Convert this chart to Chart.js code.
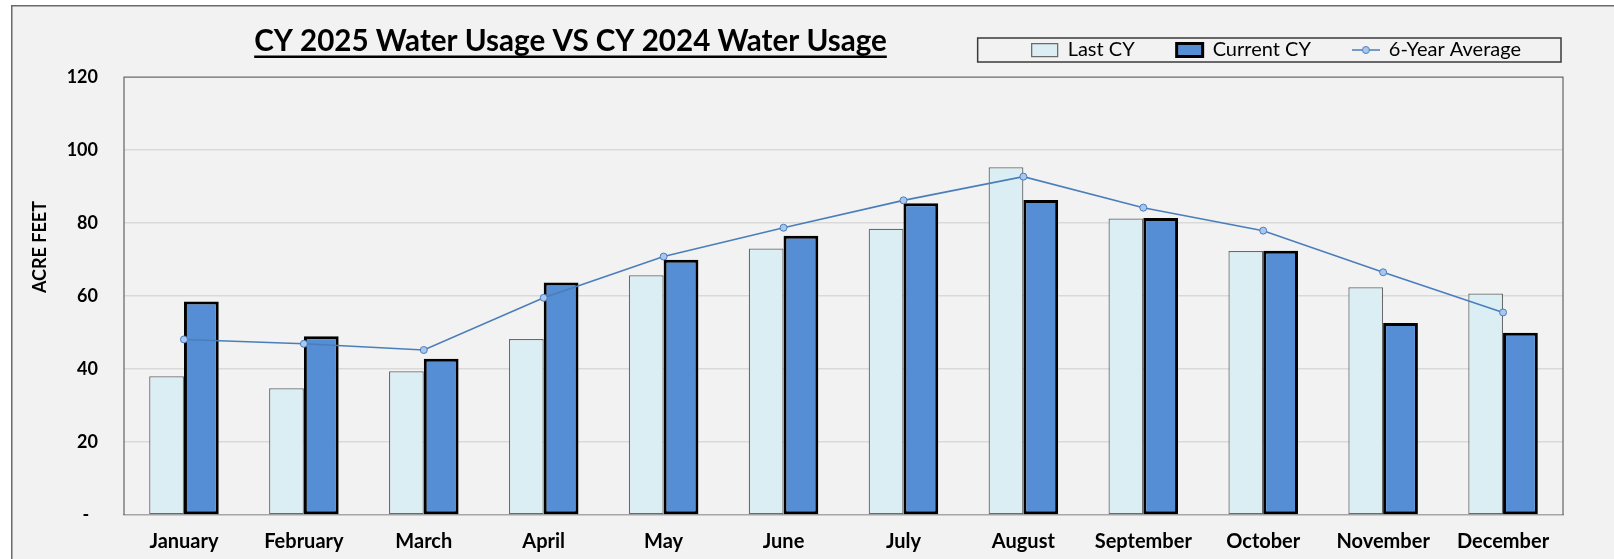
<!DOCTYPE html>
<html>
<head>
<meta charset="utf-8">
<script src="https://cdn.jsdelivr.net/npm/chart.js@4/dist/chart.umd.min.js"></script>
<style>
  html, body { margin: 0; padding: 0; background: #ffffff; }
  #wrap { width: 1614px; height: 559px; }
</style>
</head>
<body>
<div id="wrap"><canvas id="c" width="1614" height="559"></canvas></div>
<script>
// ---------- data ----------
const months = ['January', 'February', 'March', 'April', 'May', 'June', 'July', 'August', 'September', 'October', 'November', 'December'];
const lastCY = [38.0, 34.7, 39.4, 48.2, 65.7, 73.0, 78.4, 95.3, 81.2, 72.3, 62.4, 60.7];
const currentCY = [58.5, 49.0, 42.8, 63.7, 69.9, 76.5, 85.4, 86.3, 81.4, 72.4, 52.6, 49.9];
const sixYearAvg = [48.1, 46.9, 45.2, 59.5, 70.8, 78.7, 86.2, 92.7, 84.2, 77.9, 66.5, 55.5];
const yTickValues = [0, 20, 40, 60, 80, 100, 120];
const seriesNames = ['Last CY', 'Current CY', '6-Year Average'];
const chartTitle = 'CY 2025 Water Usage VS CY 2024 Water Usage';
const yAxisTitle = 'ACRE FEET';

// ---------- styles ----------
const FONT = 'Lato';
const C_LAST = '#dbeef4';
const C_LAST_BORDER = '#6a6a6a';
const C_CUR = '#558ed5';
const C_CUR_BORDER = '#000000';
const C_LINE = '#4a7ebb';
const C_POINT = '#aac5ee';
const LEGEND_PAD = 42;
const LEGEND_FONT = 20;
const LEGEND_CENTER_Y = 50;
const PLOT_TOP = 77;
const TOP_PAD = Math.max(0, PLOT_TOP - (LEGEND_FONT + LEGEND_PAD + 10));

// legend marker for the line series (line with circle)
const lineMarker = document.createElement('canvas');
lineMarker.width = 28; lineMarker.height = 10;
(function () {
  const g = lineMarker.getContext('2d');
  g.strokeStyle = C_LINE; g.lineWidth = 1.5;
  g.beginPath(); g.moveTo(0, 5); g.lineTo(28, 5); g.stroke();
  g.beginPath(); g.arc(14, 5, 3.5, 0, Math.PI * 2);
  g.fillStyle = C_POINT; g.fill(); g.lineWidth = 1; g.stroke();
})();

const decorPlugin = {
  id: 'decor',
  beforeDraw(chart) {
    const { ctx, width, height } = chart;
    ctx.save();
    ctx.fillStyle = '#ffffff';
    ctx.fillRect(0, 0, width, height);
    ctx.fillStyle = '#f2f2f2';
    ctx.fillRect(11, 5, width - 11, height - 5);
    ctx.strokeStyle = '#6a6a6a';
    ctx.lineWidth = 1.5;
    ctx.beginPath();
    ctx.moveTo(11.75, height); ctx.lineTo(11.75, 5.75); ctx.lineTo(width, 5.75);
    ctx.stroke();

    // chart title (fit to reference width), underlined
    ctx.font = `bold 100px ${FONT}`;
    const w100 = ctx.measureText(chartTitle).width;
    const size = 100 * 633 / w100;
    ctx.font = `bold ${size}px ${FONT}`;
    const tw = ctx.measureText(chartTitle).width;
    const cx = 570.5, base = 51;
    ctx.fillStyle = '#000000';
    ctx.textAlign = 'center';
    ctx.textBaseline = 'alphabetic';
    ctx.fillText(chartTitle, cx, base);
    ctx.fillRect(cx - tw / 2, base + 4.5, tw, 2.5);

    // y-axis title (placed like the reference, above the plot's middle)
    ctx.save();
    ctx.translate(40, 247);
    ctx.rotate(-Math.PI / 2);
    ctx.font = `bold 18px ${FONT}`;
    ctx.textAlign = 'center';
    ctx.textBaseline = 'middle';
    ctx.fillText(yAxisTitle, 0, 0);
    ctx.restore();
    ctx.restore();

    // vertical placement of legend row
    const lg = chart.legend;
    if (lg) {
      lg.top = LEGEND_CENTER_Y - LEGEND_PAD - LEGEND_FONT / 2;
      lg.bottom = lg.top + lg.height;
    }
  },
  beforeDatasetsDraw(chart) {
    const { ctx, chartArea: a } = chart;
    ctx.save();
    ctx.strokeStyle = '#6a6a6a';
    ctx.lineWidth = 1.25;
    ctx.beginPath();
    ctx.moveTo(a.left, a.bottom); ctx.lineTo(a.left, a.top); ctx.lineTo(a.right, a.top); ctx.lineTo(a.right, a.bottom);
    ctx.stroke();
    ctx.restore();
  },
  afterDraw(chart) {
    const lg = chart.legend;
    if (!lg || !lg.legendHitBoxes || !lg.legendHitBoxes.length) return;
    const hb = lg.legendHitBoxes;
    const left = hb[0].left - 54;
    const last = hb[hb.length - 1];
    const right = last.left + last.width + 40;
    const { ctx } = chart;
    ctx.save();
    ctx.strokeStyle = '#3a3a3a';
    ctx.lineWidth = 1.5;
    ctx.strokeRect(left, 38, right - left, 24);
    ctx.restore();
  }
};

const datasets = [
  {
    type: 'bar', label: seriesNames[0], data: lastCY,
    backgroundColor: C_LAST, borderColor: C_LAST_BORDER, borderWidth: 1.25,
    borderSkipped: false, order: 1,
    categoryPercentage: 0.58, barPercentage: 1.0
  },
  {
    type: 'bar', label: seriesNames[1], data: currentCY,
    backgroundColor: C_CUR, borderColor: C_CUR_BORDER, borderWidth: 3,
    borderSkipped: false, order: 1,
    categoryPercentage: 0.58, barPercentage: 1.0
  },
  {
    type: 'line', label: seriesNames[2], data: sixYearAvg,
    borderColor: C_LINE, borderWidth: 1.6, backgroundColor: C_POINT,
    pointRadius: 3.5, pointBorderWidth: 1, pointBorderColor: C_LINE, pointBackgroundColor: C_POINT,
    tension: 0, fill: false, order: 0
  }
];

new Chart(document.getElementById('c'), {
  data: { labels: months, datasets },
  plugins: [decorPlugin],
  options: {
    responsive: false,
    animation: false,
    devicePixelRatio: 1,
    layout: { padding: { top: TOP_PAD, left: 12, right: 51, bottom: 0 } },
    plugins: {
      tooltip: { enabled: false },
      title: { display: false },
      legend: {
        display: true,
        position: 'top',
        align: 'end',
        maxHeight: PLOT_TOP,
        labels: {
          usePointStyle: true,
          pointStyleWidth: 26,
          boxHeight: 13,
          padding: LEGEND_PAD,
          color: '#000000',
          font: { family: FONT, size: LEGEND_FONT, weight: 'normal' },
          generateLabels(chart) {
            return chart.data.datasets.map((ds, i) => ({
              text: ds.label,
              datasetIndex: i,
              fillStyle: ds.type === 'line' ? 'rgba(0,0,0,0)' : ds.backgroundColor,
              strokeStyle: ds.type === 'line' ? 'rgba(0,0,0,0)' : ds.borderColor,
              lineWidth: ds.type === 'line' ? 0 : ds.borderWidth,
              pointStyle: ds.type === 'line' ? lineMarker : 'rect',
              fontColor: '#000000',
              hidden: false
            }));
          }
        }
      }
    },
    scales: {
      x: {
        grid: { display: false, drawTicks: false },
        border: { display: true, color: '#a6a6a6', width: 1.5 },
        ticks: { color: '#000000', padding: 15, font: { family: FONT, size: 20, weight: 'bold' } },
        afterFit(s) { s.height = 44; }
      },
      y: {
        min: 0, max: 120,
        afterBuildTicks(s) { s.ticks = yTickValues.map(v => ({ value: v })); },
        grid: {
          drawTicks: false,
          lineWidth: 1.5,
          color(ctx) { return ctx.tick && (ctx.tick.value === 0 || ctx.tick.value === 120) ? 'rgba(0,0,0,0)' : '#d9d9d9'; }
        },
        border: { display: false },
        ticks: {
          color: '#000000', padding: 26,
          font: { family: FONT, size: 18, weight: 'bold' },
          callback(v) { return v === 0 ? '-  ' : String(v); }
        },
        title: { display: false },
        afterFit(s) { s.width = 112; }
      }
    }
  }
});
</script>
</body>
</html>
